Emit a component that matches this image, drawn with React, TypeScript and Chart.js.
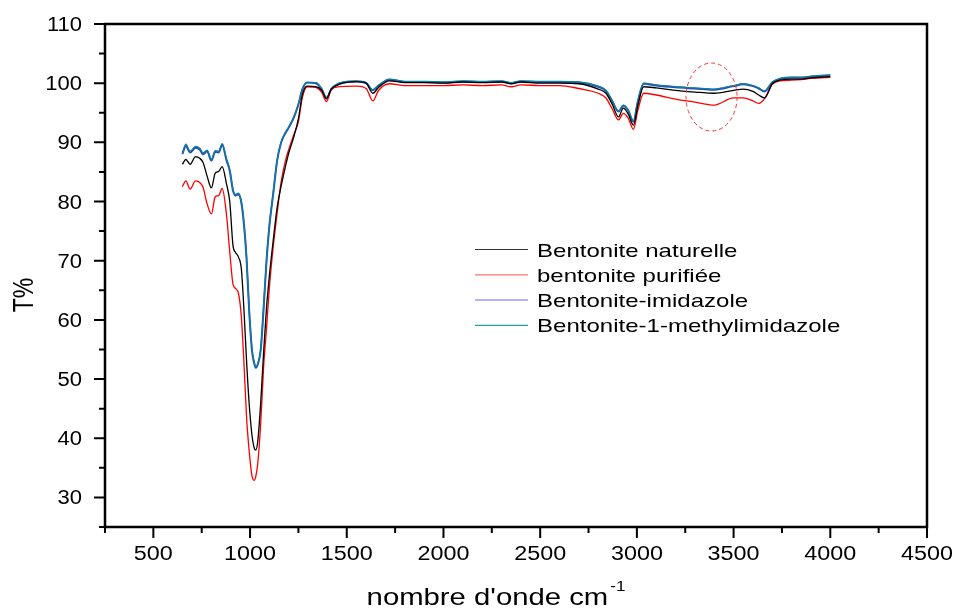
import { useEffect, useRef } from "react";
import { Chart, registerables } from "chart.js";

Chart.register(...registerables);

const WAVENUMBERS = [
  650, 668, 690, 718, 740, 757, 778, 800, 820, 838,
  856, 878, 895, 912, 925, 940, 955, 968, 982, 995,
  1010, 1022, 1030, 1040, 1055, 1070, 1085, 1100, 1120, 1140,
  1160, 1180, 1200, 1225, 1250, 1270, 1295, 1340, 1370, 1395,
  1420, 1460, 1550, 1600, 1635, 1665, 1720, 1800, 1900, 2000,
  2100, 2200, 2300, 2350, 2400, 2500, 2600, 2700, 2800, 2840,
  2870, 2905, 2930, 2955, 2982, 3005, 3035, 3100, 3200, 3300,
  3400, 3500, 3550, 3600, 3630, 3660, 3700, 3740, 3800, 3850,
  3900, 3950, 4000,
];

const T_NATURELLE = [
  86.3, 87.1, 86.3, 87.6, 87.3, 86.6, 84.3, 82.3, 84.8, 85.1,
  85.9, 83.0, 80.0, 72.5, 71.4, 70.6, 68.6, 62.0, 53.0, 46.0,
  40.5, 38.3, 38.0, 39.5, 46.0, 54.5, 62.0, 67.5, 73.5, 79.0,
  82.5, 85.5, 88.2, 90.8, 94.0, 98.0, 99.5, 99.4, 98.8, 97.4,
  99.0, 99.8, 100.25, 100.0, 98.3, 99.3, 100.4, 100.1, 100.1, 100.0,
  100.2, 100.1, 100.2, 99.9, 100.2, 100.0, 100.0, 99.9, 99.0, 98.3,
  96.6, 94.3, 95.8, 94.8, 92.9, 96.2, 99.4, 99.2, 98.8, 98.5,
  98.3, 98.8, 99.0, 98.6, 98.0, 97.5, 99.9, 100.5, 100.7, 100.7,
  100.9, 101.0, 101.1,
];

const T_PURIFIEE = [
  82.5, 83.5, 82.1, 83.5, 83.2, 82.4, 79.6, 77.9, 80.8, 81.0,
  82.2, 77.8, 71.5, 66.0, 65.3, 64.5, 60.5, 53.0, 43.5, 38.0,
  33.6, 32.9, 33.6, 35.8, 42.5, 52.0, 58.5, 65.5, 72.4, 78.0,
  83.2, 86.5, 88.8, 91.2, 93.5, 97.5, 99.4, 99.3, 98.5, 96.9,
  98.9, 99.4, 99.5, 99.1, 97.0, 98.8, 99.9, 99.6, 99.6, 99.6,
  99.7, 99.6, 99.7, 99.4, 99.7, 99.6, 99.6, 99.1, 98.3, 97.5,
  95.8, 93.8, 94.9, 94.1, 92.2, 95.4, 98.3, 98.0, 97.3, 96.8,
  96.3, 97.5, 97.5, 97.0, 96.6, 97.4, 99.8, 100.4, 100.5, 100.6,
  100.8, 100.9, 101.0,
];

const T_IMIDAZOLE = [
  88.0, 89.4, 88.3, 89.1, 88.8, 88.0, 88.5, 86.9, 88.4, 88.3,
  89.6, 87.0, 85.2, 81.8, 81.0, 81.2, 79.8, 76.3, 70.3, 61.8,
  54.8, 52.6, 51.9, 52.5, 54.9, 61.9, 69.9, 75.9, 81.4, 86.9,
  89.9, 91.4, 92.5, 94.1, 96.4, 98.9, 100.1, 100.0, 99.0, 97.4,
  99.0, 99.9, 100.3, 100.0, 98.8, 99.6, 100.6, 100.2, 100.2, 100.1,
  100.3, 100.2, 100.3, 100.0, 100.3, 100.2, 100.2, 100.1, 99.4, 98.7,
  97.1, 95.2, 96.2, 95.4, 93.5, 96.9, 99.9, 99.6, 99.3, 99.1,
  98.9, 99.5, 99.8, 99.5, 99.1, 98.6, 100.1, 100.7, 100.9, 100.9,
  101.1, 101.2, 101.3,
];

const T_METHYLIMIDAZOLE = [
  88.2, 89.7, 88.5, 89.3, 89.0, 88.2, 88.7, 87.1, 88.6, 88.5,
  89.8, 87.2, 85.4, 82.0, 81.2, 81.4, 80.0, 76.5, 70.5, 62.0,
  55.0, 52.8, 52.0, 52.6, 55.0, 62.0, 70.0, 76.0, 81.5, 87.0,
  90.0, 91.5, 92.6, 94.2, 96.5, 99.0, 100.1, 100.1, 99.1, 97.6,
  99.1, 100.0, 100.4, 100.1, 98.9, 99.7, 100.7, 100.3, 100.3, 100.2,
  100.4, 100.3, 100.4, 100.1, 100.4, 100.3, 100.3, 100.2, 99.5, 98.8,
  97.2, 95.3, 96.3, 95.5, 93.6, 97.0, 100.0, 99.7, 99.4, 99.2,
  99.0, 99.6, 99.9, 99.6, 99.2, 98.7, 100.2, 100.8, 101.0, 101.0,
  101.2, 101.3, 101.4,
];

const SERIES_LABELS = [
  "Bentonite naturelle",
  "bentonite purifiée",
  "Bentonite-imidazole",
  "Bentonite-1-methylimidazole",
];

const X_MAJOR_TICKS = [500, 1000, 1500, 2000, 2500, 3000, 3500, 4000, 4500];
const X_MINOR_TICKS = [250, 750, 1250, 1750, 2250, 2750, 3250, 3750, 4250];
const Y_MAJOR_TICKS = [30, 40, 50, 60, 70, 80, 90, 100, 110];
const Y_MINOR_TICKS = [25, 35, 45, 55, 65, 75, 85, 95, 105];

const X_TITLE = "nombre d'onde cm";
const X_TITLE_SUP = "-1";
const Y_TITLE = "T%";

// highlighted region (data units): centre wavenumber, centre T%, half-widths
const HIGHLIGHT_CENTER = [3386, 97.66];
const HIGHLIGHT_RADII = [132, 5.75];

const FONT = '"Liberation Sans", Arial, sans-serif';
const LINE_COLORS = ["#000000", "#ff0000", "#2a48c0", "#0f7f98"];
const LEGEND_COLORS = ["#333333", "#f57474", "#6b6bf0", "#2a9f9f"];

function stretchedText(
  ctx: CanvasRenderingContext2D,
  text: string,
  x: number,
  y: number,
  size: number,
  sx: number,
  align: CanvasTextAlign
) {
  ctx.save();
  ctx.translate(x, y);
  ctx.scale(sx, 1);
  ctx.font = `${size}px ${FONT}`;
  ctx.textAlign = align;
  ctx.textBaseline = "alphabetic";
  ctx.fillStyle = "#000";
  ctx.fillText(text, 0, 0);
  ctx.restore();
}

const decorPlugin = {
  id: "decor",
  afterDraw(chart: any) {
    const ctx: CanvasRenderingContext2D = chart.ctx;
    const xs = chart.scales.x;
    const ys = chart.scales.y;
    const { left, right, top, bottom } = chart.chartArea;

    // highlight ellipse
    ctx.save();
    const cx = xs.getPixelForValue(HIGHLIGHT_CENTER[0]);
    const cy = ys.getPixelForValue(HIGHLIGHT_CENTER[1]);
    const rx = Math.abs(xs.getPixelForValue(HIGHLIGHT_CENTER[0] + HIGHLIGHT_RADII[0]) - cx);
    const ry = Math.abs(ys.getPixelForValue(HIGHLIGHT_CENTER[1] + HIGHLIGHT_RADII[1]) - cy);
    ctx.beginPath();
    ctx.ellipse(cx, cy, rx, ry, 0, 0, Math.PI * 2);
    ctx.setLineDash([4, 3]);
    ctx.strokeStyle = "#ff3030";
    ctx.lineWidth = 1;
    ctx.stroke();
    ctx.restore();

    // frame
    ctx.save();
    ctx.strokeStyle = "#000";
    ctx.lineWidth = 2.5;
    ctx.beginPath();
    ctx.rect(left, top, right - left, bottom - top);
    ctx.stroke();

    // ticks
    ctx.lineWidth = 2;
    ctx.beginPath();
    X_MAJOR_TICKS.forEach((v) => {
      const px = xs.getPixelForValue(v);
      ctx.moveTo(px, bottom);
      ctx.lineTo(px, bottom + 11);
    });
    X_MINOR_TICKS.forEach((v) => {
      const px = xs.getPixelForValue(v);
      ctx.moveTo(px, bottom);
      ctx.lineTo(px, bottom + 6);
    });
    Y_MAJOR_TICKS.forEach((v) => {
      const py = ys.getPixelForValue(v);
      ctx.moveTo(left, py);
      ctx.lineTo(left - 11, py);
    });
    Y_MINOR_TICKS.forEach((v) => {
      const py = ys.getPixelForValue(v);
      ctx.moveTo(left, py);
      ctx.lineTo(left - 6, py);
    });
    ctx.stroke();
    ctx.restore();

    // tick labels
    X_MAJOR_TICKS.forEach((v) => {
      stretchedText(ctx, String(v), xs.getPixelForValue(v), bottom + 33, 20.5, 1.14, "center");
    });
    Y_MAJOR_TICKS.forEach((v) => {
      stretchedText(ctx, String(v), left - 23, ys.getPixelForValue(v) + 7, 20, 1.1, "right");
    });

    // x title
    const sx = 1.22;
    const mainSize = 24;
    const supSize = 14;
    ctx.save();
    ctx.font = `${mainSize}px ${FONT}`;
    const mainW = ctx.measureText(X_TITLE).width * sx;
    ctx.font = `${supSize}px ${FONT}`;
    const supW = ctx.measureText(X_TITLE_SUP).width * sx;
    ctx.restore();
    const titleCenter = (left + right) / 2 - 20;
    const startX = titleCenter - (mainW + supW + 2) / 2;
    stretchedText(ctx, X_TITLE, startX, 605, mainSize, sx, "left");
    stretchedText(ctx, X_TITLE_SUP, startX + mainW + 2, 591, supSize, sx, "left");

    // y title (rotated)
    ctx.save();
    ctx.translate(25, 295);
    ctx.scale(1.3, 1);
    ctx.rotate(-Math.PI / 2);
    ctx.font = `23px ${FONT}`;
    ctx.textAlign = "center";
    ctx.textBaseline = "middle";
    ctx.fillStyle = "#000";
    ctx.fillText(Y_TITLE, 0, 0);
    ctx.restore();

    // legend
    const rows = [249.5, 274.8, 300, 325.3];
    SERIES_LABELS.forEach((label, i) => {
      ctx.save();
      ctx.strokeStyle = LEGEND_COLORS[i];
      ctx.lineWidth = 1.2;
      ctx.beginPath();
      ctx.moveTo(475, rows[i]);
      ctx.lineTo(528, rows[i]);
      ctx.stroke();
      ctx.restore();
      stretchedText(ctx, label, 537, rows[i] + 7, 19, 1.265, "left");
    });
  },
};

export default function App() {
  const canvasRef = useRef<HTMLCanvasElement | null>(null);

  useEffect(() => {
    document.body.style.margin = "0";
    const canvas = canvasRef.current;
    if (!canvas) return;
    const series = [T_NATURELLE, T_PURIFIEE, T_IMIDAZOLE, T_METHYLIMIDAZOLE];
    const widths = [1.3, 1.3, 2.0, 1.3];
    const drawOrder = [1, 2, 4, 3];
    const chart = new Chart(canvas, {
      type: "line",
      data: {
        datasets: series.map((vals, i) => ({
          label: SERIES_LABELS[i],
          data: WAVENUMBERS.map((x, j) => ({ x, y: vals[j] })),
          borderColor: LINE_COLORS[i],
          backgroundColor: LINE_COLORS[i],
          borderWidth: widths[i],
          order: drawOrder[i],
          pointRadius: 0,
          cubicInterpolationMode: "monotone" as const,
          fill: false,
        })),
      },
      options: {
        animation: false,
        responsive: false,
        devicePixelRatio: 1,
        layout: { padding: { left: 105, top: 24, right: 29, bottom: 83 } },
        plugins: {
          legend: { display: false },
          tooltip: { enabled: false },
          title: { display: false },
        },
        scales: {
          x: { type: "linear", min: 250, max: 4500, display: false },
          y: { type: "linear", min: 25, max: 110, display: false },
        },
      },
      plugins: [decorPlugin],
    });
    return () => chart.destroy();
  }, []);

  return (
    <div style={{ width: 956, height: 610, background: "#fff" }}>
      <canvas ref={canvasRef} width={956} height={610} style={{ display: "block" }} />
    </div>
  );
}
